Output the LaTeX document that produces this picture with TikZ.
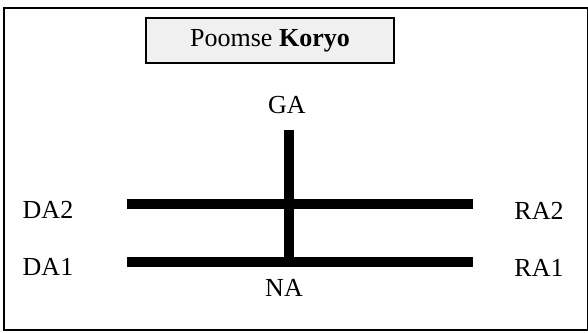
\documentclass[tikz,border=0pt]{standalone}
\usepackage{fontspec}
\setmainfont{Liberation Serif}
\usetikzlibrary{positioning}
\tikzstyle{label} = [text centered, font=\fontsize{13}{15}\selectfont]
\tikzstyle{title} = [rectangle, draw=black, line width=0.8pt, fill=gray!12, minimum width=124pt, minimum height=22.5pt, font=\fontsize{13}{15}\selectfont]
\tikzstyle{bar} = [line width=5pt]

\begin{document}
\begin{tikzpicture}[x=0.5pt,y=-0.5pt]
		\useasboundingbox (0,0) rectangle (588,332);
		\draw [line width=0.9pt] (4,8) rectangle (587.5,330);
		
		\node (title) [title] at (270,40.5) {Poomse \textbf{Koryo}};
		
		\coordinate (da2-end) at (127,204);
		\coordinate (ra2-end) at (473,204);
		\coordinate (da1-end) at (127,262);
		\coordinate (ra1-end) at (473,262);
		\coordinate (ga-end) at (289,130);
		\coordinate (na-end) at (289,262);
		
		\node (da2) [label] at (48,210) {DA2};
		\node (ra2) [label] at (539,211) {RA2};
		\node (da1) [label] at (48,267) {DA1};
		\node (ra1) [label] at (539,268) {RA1};
		\node (ga) [label] at (287,105) {GA};
		\node (na) [label] at (284,288) {NA};
		
		\draw [bar] (da2-end) -- (ra2-end);
		\draw [bar] (da1-end) -- (ra1-end);
		\draw [bar] (ga-end) -- (na-end);
		
	\end{tikzpicture}
\end{document}
